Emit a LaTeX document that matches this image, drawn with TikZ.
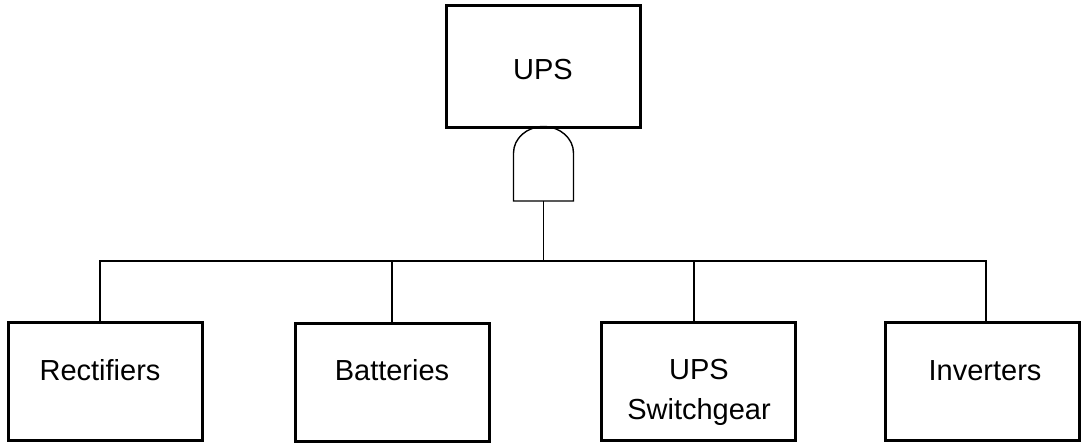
\documentclass[tikz,border=0pt]{standalone}
\usepackage{fontspec}
\setmainfont{Liberation Sans}
\begin{document}
\begin{tikzpicture}[x=1pt,y=-1pt,
  box/.style={draw=black,line width=3pt,minimum width=194pt,minimum height=118pt,inner sep=0pt},
  lbl/.style={font=\fontsize{29}{40}\selectfont,inner sep=0pt,align=center},
  wire/.style={draw=black,line width=1.4pt},
  gatestyle/.style={draw=black,line width=1.4pt}]
\useasboundingbox (0,0) rectangle (1083,444);
% top event
\node[box,minimum height=121pt] (top) at (543,66.5) {};
\node[lbl,anchor=base] (toplbl) at (543,79) {UPS};
% AND gate
\draw[gatestyle] (513.5,201) -- (513.5,153) arc[start angle=180,end angle=360,x radius=30,y radius=26.5] -- (573.5,201) -- cycle;
\coordinate (gout) at (543.5,201);
\coordinate (junc) at (543.5,261);
% bottom boxes
\node[box] (rect) at (105,381) {};
\node[box] (batt) at (392,382) {};
\node[box] (swg) at (698,381.5) {};
\node[box] (inv) at (982.5,381) {};
\node[lbl,anchor=base] (rectlbl) at (100,380) {Rectifiers};
\node[lbl,anchor=base] (battlbl) at (392,380) {Batteries};
\node[lbl,anchor=center] (swglbl) at (699,392.5) {UPS\\Switchgear};
\node[lbl,anchor=base] (invlbl) at (985,380) {Inverters};
% connectors
\coordinate (rin) at ([xshift=-5pt]rect.north);
\coordinate (bin) at (batt.north);
\coordinate (sin) at ([xshift=-4pt]swg.north);
\coordinate (iin) at ([xshift=3.5pt]inv.north);
\draw[wire] (gout) -- (junc);
\draw[wire] (junc) -| (rin);
\draw[wire] (junc) -| (bin);
\draw[wire] (junc) -| (sin);
\draw[wire] (junc) -| (iin);
\end{tikzpicture}
\end{document}
